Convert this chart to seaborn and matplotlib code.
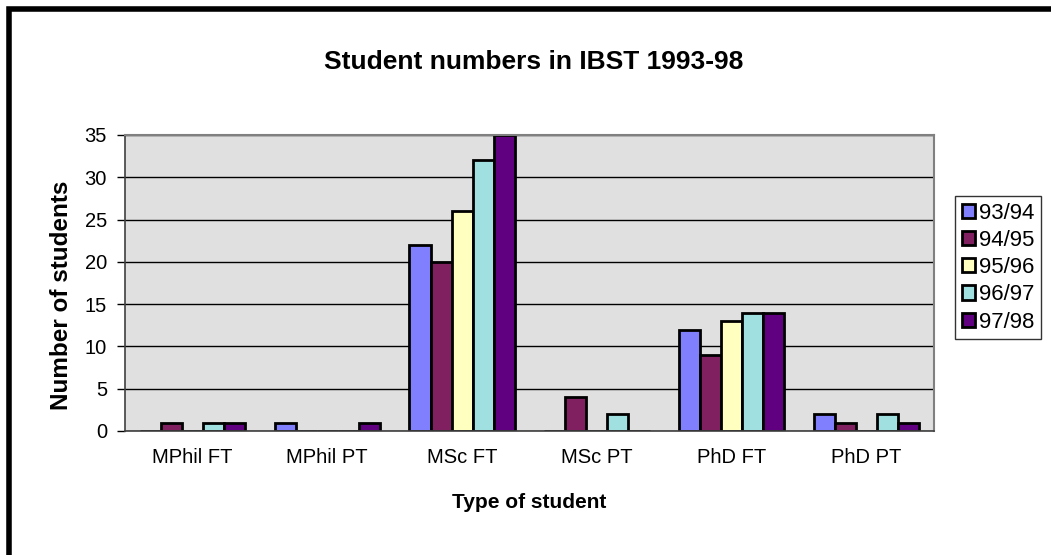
import pandas as pd
import matplotlib.pyplot as plt
import seaborn as sns
from matplotlib.patches import Rectangle

# DATA
categories = ['MPhil FT', 'MPhil PT', 'MSc FT', 'MSc PT', 'PhD FT', 'PhD PT']
years = ['93/94', '94/95', '95/96', '96/97', '97/98']
y9394 = [0, 1, 22, 0, 12, 2]
y9495 = [1, 0, 20, 4, 9, 1]
y9596 = [0, 0, 26, 0, 13, 0]
y9697 = [1, 0, 32, 2, 14, 2]
y9798 = [1, 1, 35, 0, 14, 1]
colors = ['#8080FF', '#802060', '#FFFFC0', '#A0E0E0', '#600080']
y_ticks = [0, 5, 10, 15, 20, 25, 30, 35]

rows = []
for year, vals in zip(years, [y9394, y9495, y9596, y9697, y9798]):
    for cat, v in zip(categories, vals):
        rows.append({'Type': cat, 'Year': year, 'Students': v})
df = pd.DataFrame(rows)

sns.set_style("white")
plt.rcParams['font.family'] = ['Liberation Sans', 'DejaVu Sans']
plt.rcParams['text.color'] = 'black'
plt.rcParams['axes.labelcolor'] = 'black'
plt.rcParams['xtick.color'] = 'black'
plt.rcParams['ytick.color'] = 'black'

fig = plt.figure(figsize=(10.51, 5.55), dpi=100)
ax = fig.add_axes([125 / 1051, 1 - 431 / 555, 809 / 1051, 296 / 555])
ax.set_facecolor('#E0E0E0')

sns.barplot(data=df, x='Type', y='Students', hue='Year', hue_order=years,
            palette=colors, width=0.78, edgecolor='black', linewidth=2,
            saturation=1, ax=ax, legend=False)

ax.set_ylim(0, 35)
ax.set_yticks(y_ticks)
ax.set_xlim(-0.5, len(categories) - 0.5)
ax.yaxis.grid(True, color='black', linewidth=1)
ax.set_axisbelow(True)

# ticks between categories on the x axis
ax.set_xticks(range(len(categories)))
ax.set_xticklabels(categories)
ax.tick_params(axis='x', length=0, labelsize=14.5, pad=12)
ax.set_xticks([i + 0.5 for i in range(-1, len(categories))], minor=True)
ax.tick_params(axis='x', which='minor', length=7, width=1, direction='out', color='black')
ax.tick_params(axis='y', length=6, width=1, direction='out', color='black', labelsize=14.5,
               left=True, pad=7)

for side in ['top', 'right']:
    ax.spines[side].set_color('#808080')
    ax.spines[side].set_linewidth(1.5)
for side in ['left', 'bottom']:
    ax.spines[side].set_color('#404040')
    ax.spines[side].set_linewidth(1.2)

ax.set_xlabel('Type of student', fontsize=15, fontweight='bold')
ax.set_ylabel('Number of students', fontsize=17.5, fontweight='bold')
ax.xaxis.set_label_coords(0.5, -(493 - 431) / 296)
ax.yaxis.set_label_coords(-(125 - 73) / 809, 0.46)
fig.text(534 / 1051, 1 - 62 / 555, 'Student numbers in IBST 1993-98',
         ha='center', va='center', fontsize=19, fontweight='bold')

# legend
handles = [Rectangle((0, 0), 1, 1, facecolor=c, edgecolor='black', linewidth=2) for c in colors]
leg = fig.legend(handles, years, loc='upper left', bbox_to_anchor=(955 / 1051, 1 - 196 / 555),
                 fontsize=16, frameon=True, fancybox=False, handlelength=0.6, handleheight=0.6,
                 handletextpad=0.2, borderpad=0.3, labelspacing=0.28, borderaxespad=0)
leg.get_frame().set_edgecolor('black')
leg.get_frame().set_linewidth(1)

# outer frame
fig.patches.append(Rectangle((9 / 1051, -0.05), 1.1, 1 - 8.5 / 555 + 0.05, transform=fig.transFigure,
                             fill=False, edgecolor='black', linewidth=4))

fig.savefig('out.png', dpi=100)
